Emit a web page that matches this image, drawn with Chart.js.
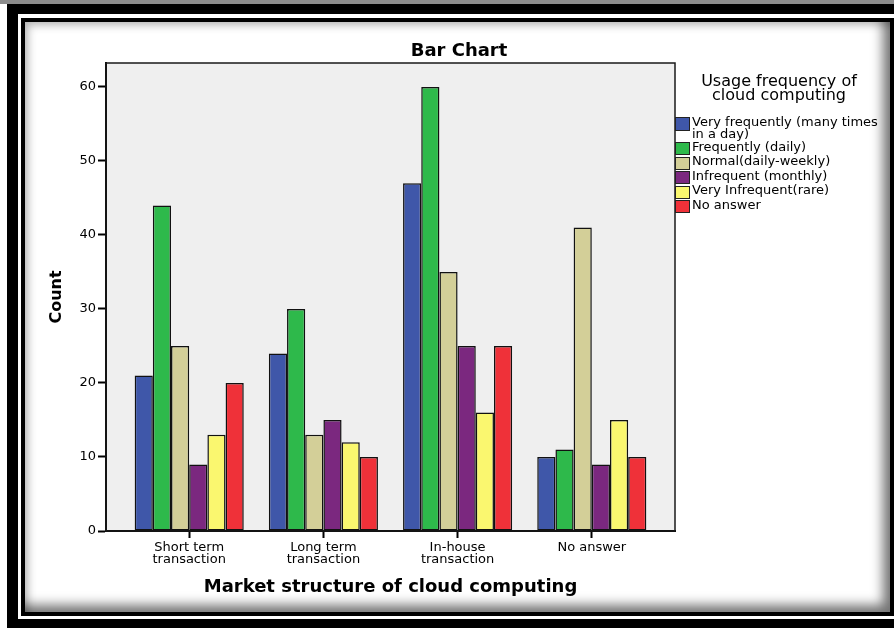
<!DOCTYPE html>
<html>
<head>
<meta charset="utf-8">
<script src="https://cdn.jsdelivr.net/npm/chart.js@4"></script>
<style>
  body { margin: 0; background: #fff; }
  #page { position: relative; width: 894px; height: 628px; overflow: hidden; background: #fff; font-family: "DejaVu Sans", sans-serif; }
  #topline { position: absolute; left: 0; top: 0; width: 894px; height: 4px; background: #8c8c8c; }
  #band { position: absolute; left: 7px; top: 4px; width: 920px; height: 640px; background: #000; }
  #gap { position: absolute; left: 18px; top: 14px; width: 900px; height: 605px; background: #fff; }
  #box { position: absolute; left: 21px; top: 18px; width: 865px; height: 590px; border: 4px solid #000; background: #fff;
         box-shadow: inset -10px -10px 12px -3px rgba(0,0,0,0.55), inset 7px 7px 9px -4px rgba(0,0,0,0.3); }
  canvas { position: absolute; left: 0; top: 0; }
  #legTitle { position: absolute; left: 690px; width: 178px; top: 73.5px; text-align: center; font-size: 16px; line-height: 14.5px; color: #000; }
  #legItems { position: absolute; left: 675px; top: 115.5px; }
  .item { display: flex; align-items: flex-start; }
  .sw { width: 13px; height: 11px; margin-top: 1.5px; border: 1px solid #222; flex: none; }
  .txt { margin-left: 2px; width: 193px; font-size: 13px; line-height: 12.5px; color: #000; }
</style>
</head>
<body>
<div id="page">
  <div id="topline"></div>
  <div id="band"></div>
  <div id="gap"></div>
  <div id="box"></div>
  <canvas id="chart" width="894" height="628"></canvas>
  <div id="legTitle">Usage frequency of<br>cloud computing</div>
  <div id="legItems"></div>
</div>
<script>
// market structures on the x axis
const categories = [['Short term', 'transaction'], ['Long term', 'transaction'], ['In-house', 'transaction'], ['No answer']];

// usage frequency groups
const seriesNames = ['Very frequently (many times in a day)', 'Frequently (daily)', 'Normal(daily-weekly)',
  'Infrequent (monthly)', 'Very Infrequent(rare)', 'No answer'];
const veryFrequently = [21, 24, 47, 10];
const frequently = [44, 30, 60, 11];
const normal = [25, 13, 35, 41];
const infrequent = [9, 15, 25, 9];
const veryInfrequent = [13, 12, 16, 15];
const noAnswer = [20, 10, 25, 10];
const seriesValues = [veryFrequently, frequently, normal, infrequent, veryInfrequent, noAnswer];

const yTicks = [0, 10, 20, 30, 40, 50, 60];
const colors = ['#3F57A9', '#2EB94B', '#D3CF98', '#7B287F', '#FAF76F', '#EF3139'];

const chartTitle = 'Bar Chart';

Chart.defaults.font.family = '"DejaVu Sans", sans-serif';
Chart.defaults.color = '#000';

// legend on the right
const legItems = document.getElementById('legItems');
seriesNames.forEach((name, i) => {
  let item = document.createElement('div');
  item.className = 'item';
  let sw = document.createElement('div');
  sw.className = 'sw';
  sw.style.background = colors[i];
  if (i == 0) sw.style.height = '12px';
  let txt = document.createElement('div');
  txt.className = 'txt';
  txt.textContent = name;
  item.appendChild(sw);
  item.appendChild(txt);
  legItems.appendChild(item);
});

// grey plot panel, its frame and the title
const plotBox = {
  id: 'plotBox',
  beforeDraw(chart) {
    const { ctx, chartArea: a } = chart;
    ctx.save();
    ctx.fillStyle = '#EFEFEF';
    ctx.fillRect(a.left, a.top, a.right - a.left, a.bottom - a.top);
    ctx.restore();
  },
  afterDatasetsDraw(chart) {
    const { ctx, chartArea: a } = chart;
    ctx.save();
    ctx.strokeStyle = '#1a1a1a';
    ctx.lineWidth = 1.5;
    ctx.strokeRect(a.left, a.top, a.right - a.left, a.bottom - a.top);
    ctx.restore();
  },
  afterDraw(chart) {
    const ctx = chart.ctx;
    ctx.save();
    ctx.font = 'bold 18px "DejaVu Sans"';
    ctx.fillStyle = '#000';
    ctx.textAlign = 'center';
    ctx.textBaseline = 'alphabetic';
    ctx.fillText(chartTitle, 459, 56);
    ctx.restore();
  }
};

new Chart(document.getElementById('chart'), {
  type: 'bar',
  data: {
    datasets: seriesValues.map((vals, i) => ({
      label: seriesNames[i],
      data: vals.map((v, j) => ({ x: j, y: v })),
      backgroundColor: colors[i],
      borderColor: '#111',
      borderWidth: 1.5,
      borderSkipped: false
    }))
  },
  options: {
    responsive: false,
    animation: false,
    layout: { padding: { left: 0, right: 219, top: 63, bottom: 28 } },
    datasets: { bar: { categoryPercentage: 0.813, barPercentage: 1 } },
    plugins: {
      legend: { display: false },
      tooltip: { enabled: false },
      title: { display: false }
    },
    scales: {
      x: {
        type: 'linear',
        offset: false,
        min: -0.62,
        max: 3.62,
        afterBuildTicks: (s) => { s.ticks = categories.map((c, i) => ({ value: i })); },
        afterFit: (s) => { s.height = 69; },
        ticks: {
          callback: (v) => categories[v],
          font: { size: 13, lineHeight: 0.95 },
          color: '#000',
          padding: 3,
          maxRotation: 0
        },
        grid: { offset: false, drawOnChartArea: false, tickLength: 7, tickColor: '#000', tickWidth: 2 },
        border: { display: true, color: '#000', width: 2 },
        title: {
          display: true,
          text: 'Market structure of cloud computing',
          font: { size: 18, weight: 'bold' },
          color: '#000',
          padding: { top: 0, bottom: 2 }
        }
      },
      y: {
        min: 0,
        max: 63.24,
        afterBuildTicks: (s) => { s.ticks = yTicks.map((v) => ({ value: v })); },
        afterFit: (s) => { s.width = 106; },
        ticks: { font: { size: 13 }, color: '#000', padding: 2 },
        grid: { drawOnChartArea: false, tickLength: 8, tickColor: '#000', tickWidth: 2 },
        border: { display: true, color: '#000', width: 2 },
        title: {
          display: true,
          text: 'Count',
          font: { size: 16, weight: 'bold' },
          color: '#000',
          padding: { top: 47, bottom: 0 }
        }
      }
    }
  },
  plugins: [plotBox]
});
</script>
</body>
</html>
